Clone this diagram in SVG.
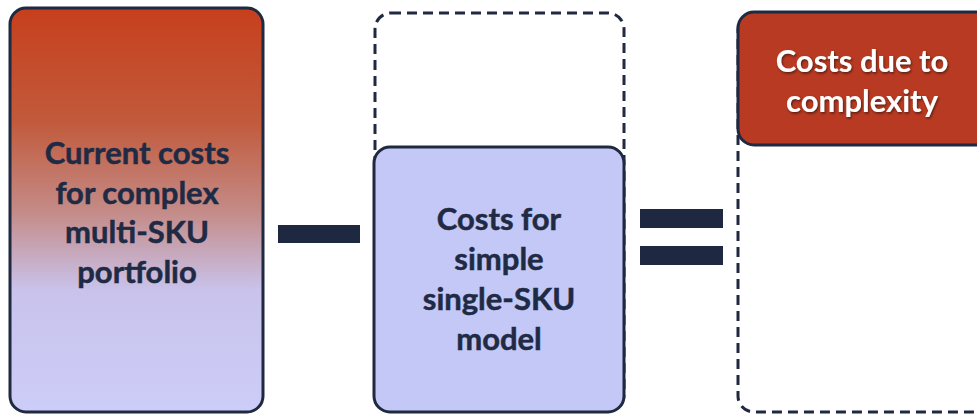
<svg xmlns="http://www.w3.org/2000/svg" width="977" height="417" viewBox="0 0 977 417">
  <defs>
    <linearGradient id="gradCurrent" x1="0" y1="0" x2="0" y2="1">
      <stop offset="0" stop-color="#c73f1d"/>
      <stop offset="0.28" stop-color="#c15a3b"/>
      <stop offset="0.5" stop-color="#c48a86"/>
      <stop offset="0.7" stop-color="#c9c3ec"/>
      <stop offset="1" stop-color="#cccdf8"/>
    </linearGradient>
    <filter id="textShadow" x="-10%" y="-20%" width="120%" height="140%">
      <feDropShadow dx="1" dy="1.5" stdDeviation="0.8" flood-color="#3a1208" flood-opacity="0.8"/>
    </filter>
  </defs>
  <style>
    .box { stroke: #1f2940; stroke-width: 3; }
    .dashed { fill: none; stroke: #1f2940; stroke-width: 3; stroke-dasharray: 10 6; }
    .label { font-family: Lato, "Liberation Sans", sans-serif; font-weight: bold; font-size: 31px; fill: #1f2a44; stroke: #1f2a44; stroke-width: 0.5; text-anchor: middle; }
    .label-light { font-family: Lato, "Liberation Sans", sans-serif; font-weight: bold; font-size: 31px; fill: #ffffff; text-anchor: middle; }
    .op { fill: #1e2841; }
  </style>
  <rect width="977" height="417" fill="#ffffff"/>

  <!-- Current costs -->
  <g id="current-costs">
    <rect class="box" x="10" y="8" width="253" height="404" rx="16" fill="url(#gradCurrent)"/>
    <text class="label" x="137" y="164">Current costs</text>
    <text class="label" x="137" y="204">for complex</text>
    <text class="label" x="137" y="243">multi-SKU</text>
    <text class="label" x="137" y="283">portfolio</text>
  </g>

  <!-- minus sign -->
  <g id="minus">
    <rect class="op" x="278" y="225" width="82" height="18"/>
  </g>

  <!-- Simple model costs, with dashed outline of the full height -->
  <g id="simple-costs">
    <rect class="dashed" x="375" y="13" width="249" height="398" rx="16"/>
    <rect class="box" x="374" y="147" width="250" height="265" rx="16" fill="#c4c8f6"/>
    <text class="label" x="499" y="230">Costs for</text>
    <text class="label" x="499" y="270">simple</text>
    <text class="label" x="499" y="310">single-SKU</text>
    <text class="label" x="499" y="350">model</text>
  </g>

  <!-- equals sign -->
  <g id="equals">
    <rect class="op" x="640" y="209" width="83" height="19"/>
    <rect class="op" x="640" y="246" width="83" height="19"/>
  </g>

  <!-- Complexity costs -->
  <g id="complexity-costs">
    <rect class="dashed" x="738" y="14" width="262" height="398" rx="16"/>
    <rect class="box" x="738" y="12" width="262" height="133" rx="16" fill="#b93a22"/>
    <text class="label-light" x="862" y="72" filter="url(#textShadow)">Costs due to</text>
    <text class="label-light" x="862" y="112" filter="url(#textShadow)">complexity</text>
  </g>
</svg>
